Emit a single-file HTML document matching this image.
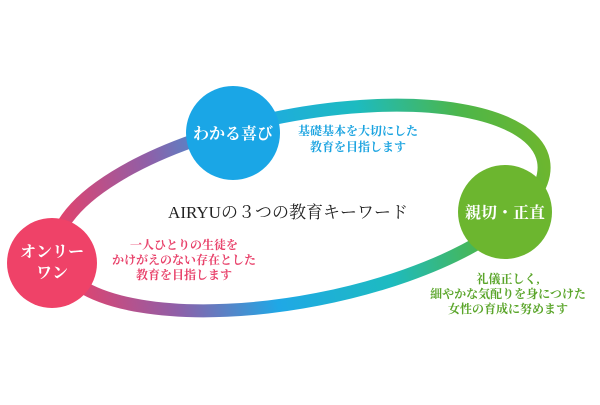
<!DOCTYPE html>
<html><head><meta charset="utf-8"><style>
body{margin:0;background:#fff;width:600px;height:400px;overflow:hidden}
svg text{font-family:"Liberation Serif","Noto Serif CJK SC",serif}
</style></head><body>
<svg width="600" height="400" viewBox="0 0 600 400">
<defs>
<linearGradient id="g" x1="50" y1="0" x2="550" y2="0" gradientUnits="userSpaceOnUse">
<stop offset="0" stop-color="#ec3f66"/>
<stop offset="0.22" stop-color="#8f5fa8"/>
<stop offset="0.42" stop-color="#1fa8e6"/>
<stop offset="0.65" stop-color="#1dbbc0"/>
<stop offset="0.85" stop-color="#4cb64a"/>
<stop offset="1" stop-color="#6cb62f"/>
</linearGradient>
</defs>
<ellipse cx="300" cy="208" rx="248" ry="93" transform="rotate(-11 300 208)" fill="none" stroke="url(#g)" stroke-width="13"/>
<circle cx="233" cy="133" r="47" fill="#1aa6e6"/>
<circle cx="505" cy="212" r="47" fill="#6cb62f"/>
<circle cx="52" cy="263" r="45" fill="#ef4268"/>
<g fill="#fff" font-size="16" font-weight="bold" text-anchor="middle">
<text x="233" y="139">わかる喜び</text>
<text x="505" y="218">親切・正直</text>
<text x="52" y="257">オンリー</text>
<text x="52" y="278">ワン</text>
</g>
<text x="288" y="218" font-size="17" fill="#222" text-anchor="middle">AIRYUの３つの教育キーワード</text>
<g fill="#1aa3e0" font-size="12" font-weight="bold" text-anchor="middle">
<text x="358" y="135">基礎基本を大切にした</text>
<text x="358" y="151">教育を目指します</text>
</g>
<g fill="#e8416a" font-size="12" font-weight="bold" text-anchor="middle">
<text x="184" y="249">一人ひとりの生徒を</text>
<text x="184" y="264">かけがえのない存在とした</text>
<text x="184" y="279">教育を目指します</text>
</g>
<g fill="#5aa52a" font-size="12" font-weight="bold" text-anchor="middle">
<text x="508" y="283">礼儀正しく,</text>
<text x="508" y="298">細やかな気配りを身につけた</text>
<text x="508" y="313">女性の育成に努めます</text>
</g>
</svg>
</body></html>
